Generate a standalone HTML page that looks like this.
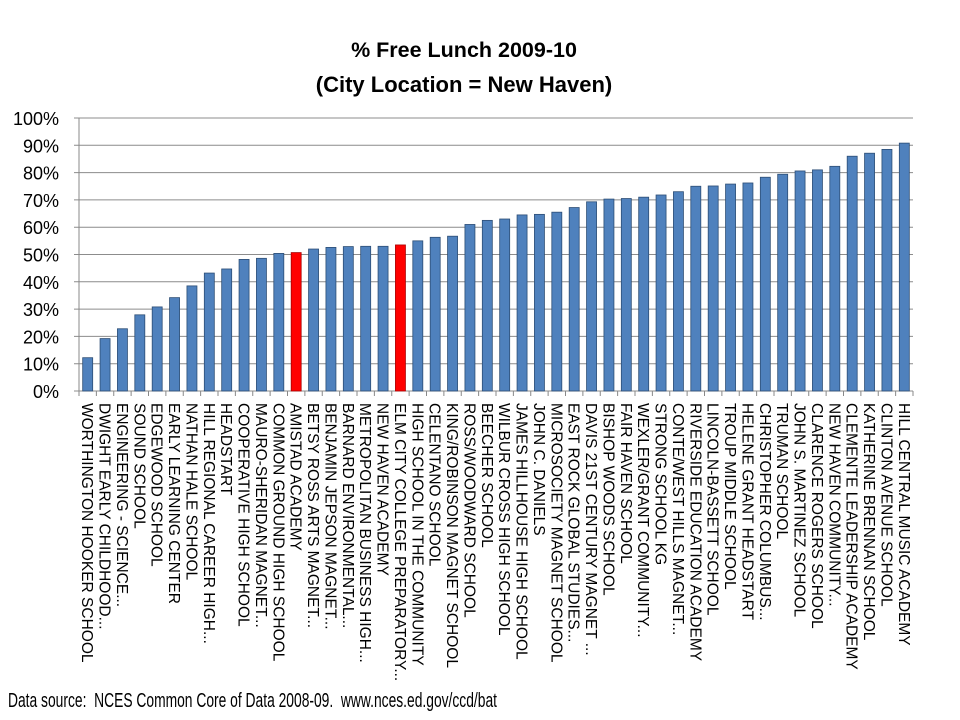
<!DOCTYPE html>
<html><head><meta charset="utf-8"><style>body{margin:0;background:#fff}svg{display:block}</style></head>
<body>
<svg id="s" width="960" height="720" xmlns="http://www.w3.org/2000/svg" font-family="Liberation Sans, sans-serif">
<rect width="960" height="720" fill="#fff"/>
<text x="464" y="57" font-size="21.5" font-weight="bold" text-anchor="middle">% Free Lunch 2009-10</text>
<text x="464" y="92" font-size="22" font-weight="bold" text-anchor="middle">(City Location = New Haven)</text>
<g id="grid"></g>
<g id="bars"></g>
<g id="labels"></g>
<text x="8" y="707" font-size="20" textLength="489" lengthAdjust="spacingAndGlyphs" xml:space="preserve">Data source:  NCES Common Core of Data 2008-09.  www.nces.ed.gov/ccd/bat</text>
</svg>
<script>
var names=["WORTHINGTON HOOKER SCHOOL","DWIGHT EARLY CHILDHOOD...","ENGINEERING - SCIENCE...","SOUND SCHOOL","EDGEWOOD SCHOOL","EARLY LEARNING CENTER","NATHAN HALE SCHOOL","HILL REGIONAL CAREER HIGH...","HEADSTART","COOPERATIVE HIGH SCHOOL","MAURO-SHERIDAN MAGNET...","COMMON GROUND HIGH SCHOOL","AMISTAD ACADEMY","BETSY ROSS ARTS MAGNET...","BENJAMIN JEPSON MAGNET...","BARNARD ENVIRONMENTAL...","METROPOLITAN BUSINESS HIGH...","NEW HAVEN ACADEMY","ELM CITY COLLEGE PREPARATORY...","HIGH SCHOOL IN THE COMMUNITY","CELENTANO SCHOOL","KING/ROBINSON MAGNET SCHOOL","ROSS/WOODWARD SCHOOL","BEECHER SCHOOL","WILBUR CROSS HIGH SCHOOL","JAMES HILLHOUSE HIGH SCHOOL","JOHN C. DANIELS","MICROSOCIETY MAGNET SCHOOL","EAST ROCK GLOBAL STUDIES...","DAVIS 21ST CENTURY MAGNET ...","BISHOP WOODS SCHOOL","FAIR HAVEN SCHOOL","WEXLER/GRANT COMMUNITY...","STRONG SCHOOL KG","CONTE/WEST HILLS MAGNET...","RIVERSIDE EDUCATION ACADEMY","LINCOLN-BASSETT SCHOOL","TROUP MIDDLE SCHOOL","HELENE GRANT HEADSTART","CHRISTOPHER COLUMBUS...","TRUMAN SCHOOL","JOHN S. MARTINEZ SCHOOL","CLARENCE ROGERS SCHOOL","NEW HAVEN COMMUNITY...","CLEMENTE LEADERSHIP ACADEMY","KATHERINE BRENNAN SCHOOL","CLINTON AVENUE SCHOOL","HILL CENTRAL MUSIC ACADEMY"];
var vals=[12.2,19.2,22.8,27.9,30.8,34.2,38.5,43.2,44.7,48.2,48.6,50.4,50.7,52,52.6,52.9,53,53,53.5,55,56.3,56.7,61,62.5,63,64.5,64.7,65.5,67.2,69.3,70.3,70.5,71,71.8,73,75,75.1,75.8,76.2,78.3,79.4,80.6,81,82.3,86,87.1,88.5,90.8];
var ns="http://www.w3.org/2000/svg";
function el(p,t,a,txt){var e=document.createElementNS(ns,t);for(var k in a)e.setAttribute(k,a[k]);if(txt!=null)e.textContent=txt;document.getElementById(p).appendChild(e);return e;}
var L=79,R=913,T=118,B=391,n=48,w=(R-L)/n;
for(var i=0;i<=10;i++){var y=B-(B-T)*i/10;
 el("grid","line",{x1:L-5,x2:R,y1:y,y2:y,stroke:"#8c8c8c","stroke-width":1});
 el("grid","text",{x:59,y:y+7,"font-size":18,"text-anchor":"end"},(i*10)+"%");}
el("grid","line",{x1:L,x2:L,y1:T,y2:B,stroke:"#888"});
for(var i=0;i<=n;i++){var x=L+i*w;el("grid","line",{x1:x,x2:x,y1:B,y2:B+5,stroke:"#888"});}
for(var i=0;i<n;i++){var cx=L+(i+0.5)*w,h=(B-T)*vals[i]/100;var red=(i==12||i==18);
 el("bars","rect",{x:cx-5,y:B-h,width:10,height:h,fill:red?"#ff0000":"#4f81bd",stroke:red?"#a00":"#2c4d75","stroke-width":0.8});
 el("labels","text",{x:0,y:0,"font-size":15.5,transform:"translate("+(cx-5.5)+",403) rotate(90)"},names[i]);
 }
</script>
</body></html>
